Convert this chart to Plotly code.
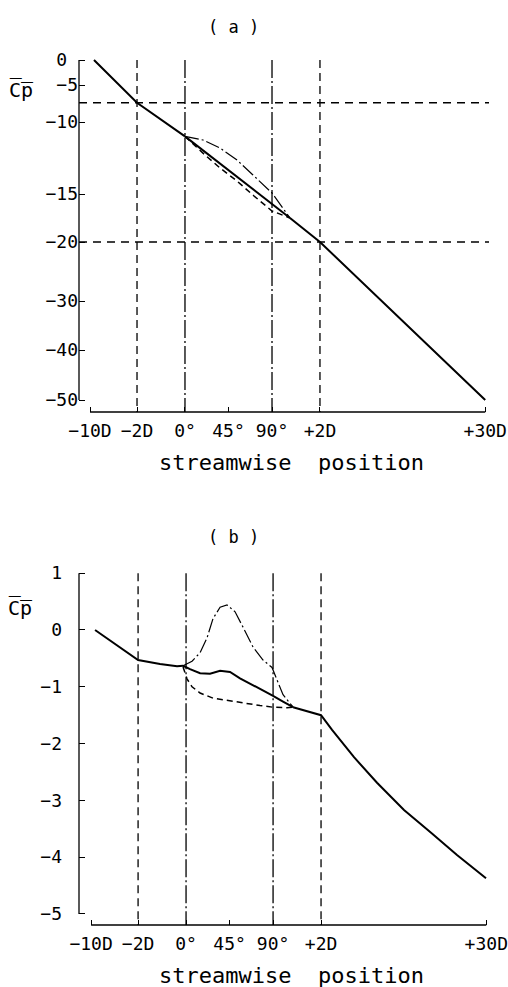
import numpy as np
import plotly.graph_objects as go

FONT = "DejaVu Sans Mono"

# ---- streamwise stations (x axis, degree-equivalent units) ----
station_labels = ["−10D", "−2D", "0°", "45°", "90°", "+2D", "+30D"]
station_pos = [-98.2, -49.6, 0, 45, 90, 139.6, 310.5]
ref_station_pos = [-49.6, 0, 90, 139.6]
ref_station_dash = ["8px,5px", "18px,3px,2px,3px", "18px,3px,2px,3px", "8px,5px"]

# ---- panel (a) : non-uniform Cp axis ----
a_tick_cp = [0, -5, -10, -15, -20, -30, -40, -50]
a_tick_text = ["0\u00a0", "−5", "−10", "−15", "−20", "−30", "−40", "−50"]
a_tick_pos = [0, -25, -62, -134, -182, -241, -290, -340]
a_hlines_cp = [-7.4, -20]

a_up_x = [-94.1, -49.6, 0]
a_up_cp = [0, -7.4, -11.0]
a_hi_x = [0, 18.6, 36.2, 53.8, 70.3, 90, 108.6]
a_hi_cp = [-11.0, -11.25, -11.81, -12.64, -13.68, -14.93, -17.5]
a_mid_x = [0, 108.6]
a_mid_cp = [-11.0, -17.5]
a_lo_x = [0, 10.3, 20.7, 36.2, 53.8, 71.4, 90, 108.6]
a_lo_cp = [-11.0, -11.67, -12.29, -13.19, -14.10, -15.21, -16.77, -17.5]
a_dn_x = [108.6, 139.6, 310.5]
a_dn_cp = [-17.5, -20, -50]

# ---- panel (b) : uniform Cp axis ----
b_tick_cp = [1, 0, -1, -2, -3, -4, -5]
b_tick_text = ["1", "0", "−1", "−2", "−3", "−4", "−5"]

b_up_x = [-94.1, -49.6, -26.9, -9.3, -3.1]
b_up_cp = [0, -0.53, -0.60, -0.64, -0.63]
b_hi_x = [-3.1, 6.2, 14.5, 21.7, 27.9, 35.2, 42.4, 50.7, 58.9, 69.3, 79.6, 88.9, 94.1, 100.3, 110.7]
b_hi_cp = [-0.63, -0.55, -0.40, -0.14, 0.20, 0.40, 0.44, 0.32, 0.05, -0.30, -0.53, -0.66, -0.88, -1.14, -1.36]
b_mid_x = [-3.1, 4.1, 14.5, 24.8, 35.2, 45.5, 55.8, 69.3, 79.6, 90, 100.3, 110.7]
b_mid_cp = [-0.63, -0.69, -0.76, -0.77, -0.72, -0.74, -0.85, -0.97, -1.06, -1.16, -1.26, -1.36]
b_lo_x = [-3.1, 1.0, 6.2, 14.5, 27.9, 45.5, 63.1, 76.5, 90, 104.4, 110.7]
b_lo_cp = [-0.65, -0.86, -1.00, -1.11, -1.20, -1.25, -1.29, -1.33, -1.36, -1.37, -1.36]
b_dn_x = [110.7, 139.6, 151, 173.7, 197.5, 225.4, 253.4, 280.2, 310.2]
b_dn_cp = [-1.36, -1.50, -1.76, -2.24, -2.69, -3.17, -3.57, -3.96, -4.37]


def ya(cp):
    return np.interp(-np.asarray(cp, float), -np.asarray(a_tick_cp, float), a_tick_pos)


W, H = 508, 987
def px(x):
    return x / W
def py(y):
    return 1 - y / H

fig = go.Figure()

a_yr = [-352, 3]
b_yr = [-5.194, 1.056]
a_xr = [-109.6, 317.5]
b_xr = [-110.7, 316.4]

solid = dict(color="black", width=2)
dashdot = dict(color="black", width=1.2, dash="14px,3px,2px,3px")
dashed = dict(color="black", width=1.5, dash="6px,4px")

def add(x, y, line, xa, yaxis):
    fig.add_trace(go.Scatter(x=x, y=y, mode="lines", line=line, xaxis=xa, yaxis=yaxis,
                             showlegend=False, hoverinfo="skip"))

# reference lines
for xs, ds in zip(ref_station_pos, ref_station_dash):
    add([xs, xs], [ya(0), a_yr[0]], dict(color="black", width=1.3, dash=ds), "x", "y")
    add([xs, xs], [1.0, b_yr[0]], dict(color="black", width=1.3, dash=ds), "x2", "y2")
for hc in a_hlines_cp:
    add([a_xr[0], 314.4], [ya(hc), ya(hc)], dict(color="black", width=1.3, dash="8px,6px"), "x", "y")

# panel (a)
add(a_up_x, ya(a_up_cp), solid, "x", "y")
add(a_hi_x, ya(a_hi_cp), dashdot, "x", "y")
add(a_mid_x, ya(a_mid_cp), solid, "x", "y")
add(a_lo_x, ya(a_lo_cp), dashed, "x", "y")
add(a_dn_x, ya(a_dn_cp), solid, "x", "y")

# panel (b)
add(b_up_x, b_up_cp, solid, "x2", "y2")
add(b_hi_x, b_hi_cp, dashdot, "x2", "y2")
add(b_mid_x, b_mid_cp, solid, "x2", "y2")
add(b_lo_x, b_lo_cp, dashed, "x2", "y2")
add(b_dn_x, b_dn_cp, solid, "x2", "y2")

tickfont = dict(family=FONT, size=18, color="black")
common_x = dict(showgrid=False, zeroline=False, showline=False, ticks="inside", ticklen=5,
                tickwidth=1.3, tickcolor="black", tickmode="array", tickvals=station_pos,
                ticktext=station_labels, tickfont=tickfont, fixedrange=True,
                ticklabeloverflow="allow", automargin=False)
common_y = dict(showgrid=False, zeroline=False, showline=False, ticks="inside", ticklen=6,
                tickwidth=1.3, tickcolor="black", tickmode="array", tickfont=tickfont, fixedrange=True,
                automargin=False)

fig.update_layout(
    width=W, height=H, margin=dict(l=0, r=0, t=0, b=0, autoexpand=False),
    paper_bgcolor="white", plot_bgcolor="white",
    xaxis=dict(domain=[px(79), px(492)], range=a_xr, anchor="y", ticklabelstandoff=6, **common_x),
    yaxis=dict(domain=[py(412), py(57)], range=a_yr, anchor="x", tickvals=list(a_tick_pos),
               ticktext=a_tick_text, ticklabelstandoff=0, **common_y),
    xaxis2=dict(domain=[px(79), px(492)], range=b_xr, anchor="y2", ticklabelstandoff=6, **common_x),
    yaxis2=dict(domain=[py(925), py(570)], range=b_yr, anchor="x2", tickvals=b_tick_cp,
                ticktext=b_tick_text, ticklabelstandoff=16, **common_y),
)

# axis lines (detached, as in the original)
axl = dict(color="black", width=1.3)
fig.add_shape(type="line", xref="x domain", yref="y", x0=0, x1=0, y0=ya(0), y1=ya(-50), line=axl)
fig.add_shape(type="line", xref="x", yref="y domain", x0=station_pos[0], x1=station_pos[-1], y0=0, y1=0, line=axl)
fig.add_shape(type="line", xref="x2 domain", yref="y2", x0=0, x1=0, y0=1, y1=-5, line=axl)
fig.add_shape(type="line", xref="x2", yref="y2 domain", x0=station_pos[0], x1=station_pos[-1], y0=0, y1=0, line=axl)

lab = dict(family=FONT, color="black")
def ann(text, x, y, size):
    fig.add_annotation(text=text, x=px(x), y=py(y), xref="paper", yref="paper", showarrow=False,
                       font=dict(size=size, **lab), xanchor="center", yanchor="middle")

ann("( a )", 233, 27, 17)
ann("( b )", 233, 537, 17)
ann("streamwise  position", 291, 462, 22)
ann("streamwise  position", 291, 975, 22)
ann("C\u0305p\u0305", 21, 90, 20)
ann("C\u0305p\u0305", 20, 608, 20)

fig.write_html("out.html")
